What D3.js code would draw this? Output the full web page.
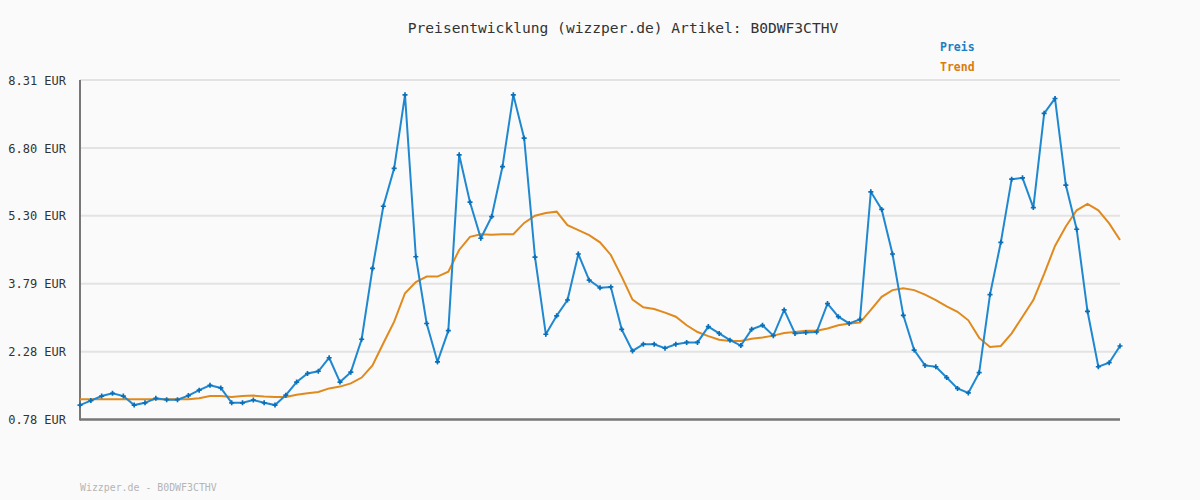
<!DOCTYPE html>
<html>
<head>
<meta charset="utf-8">
<script src="https://cdn.jsdelivr.net/npm/d3@7"></script>
<style>
  body { margin: 0; background: #fafafa; }
  svg { display: block; }
  text { font-family: "DejaVu Sans Mono", "Liberation Mono", monospace; }
</style>
</head>
<body>
<div id="chart"></div>
<script>
// Preis pro Messpunkt (EUR)
const PRICES = [1.10,1.20,1.30,1.36,1.30,1.10,1.15,1.25,1.22,1.22,1.31,1.43,1.54,1.48,1.15,1.15,1.21,1.15,1.10,1.32,
  1.61,1.80,1.85,2.15,1.61,1.83,2.56,4.13,5.51,6.35,7.98,4.39,2.91,2.06,2.75,6.65,5.60,4.80,5.28,6.39,
  7.98,7.02,4.38,2.67,3.08,3.43,4.45,3.87,3.70,3.72,2.78,2.30,2.45,2.45,2.36,2.45,2.49,2.49,2.84,2.69,
  2.54,2.42,2.78,2.87,2.64,3.21,2.69,2.71,2.72,3.35,3.06,2.91,3.00,5.83,5.44,4.45,3.09,2.32,1.98,1.95,
  1.71,1.47,1.37,1.82,3.55,4.71,6.11,6.14,5.48,7.57,7.90,5.98,5.00,3.18,1.95,2.04,2.41];
// Trendlinie
const TREND = [1.23,1.23,1.23,1.23,1.23,1.23,1.23,1.23,1.23,1.23,1.23,1.25,1.30,1.30,1.28,1.30,1.31,1.29,1.28,1.28,
  1.33,1.36,1.39,1.47,1.51,1.58,1.71,1.98,2.47,2.95,3.58,3.83,3.95,3.95,4.06,4.54,4.83,4.89,4.88,4.89,
  4.89,5.14,5.30,5.36,5.39,5.09,4.98,4.87,4.71,4.43,3.95,3.44,3.27,3.23,3.15,3.06,2.87,2.72,2.63,2.55,
  2.52,2.52,2.57,2.60,2.64,2.70,2.72,2.75,2.75,2.80,2.87,2.91,2.93,3.21,3.50,3.65,3.69,3.65,3.55,3.43,
  3.29,3.17,2.98,2.59,2.39,2.41,2.69,3.06,3.43,4.01,4.63,5.06,5.42,5.56,5.42,5.13,4.76];
const Y_TICKS = [0.78, 2.28, 3.79, 5.30, 6.80, 8.31];
const TITLE = "Preisentwicklung (wizzper.de) Artikel: B0DWF3CTHV";
const FOOTER = "Wizzper.de - B0DWF3CTHV";

(function() {
const W = 1200, H = 500;
const m = { left: 80, right: 1120, top: 80, bottom: 419.5 };

const svg = d3.select("#chart").append("svg").attr("width", W).attr("height", H);
svg.append("rect").attr("width", W).attr("height", H).attr("fill", "#fafafa");

const x = d3.scaleLinear().domain([0, PRICES.length - 1]).range([m.left, m.right]);
const y = d3.scaleLinear().domain([0.78, 8.31]).range([m.bottom, m.top]);

// gridlines
svg.append("g").selectAll("line").data(Y_TICKS.slice(1)).enter().append("line")
    .attr("x1", m.left).attr("x2", m.right)
    .attr("y1", d => y(d)).attr("y2", d => y(d))
    .attr("stroke", "#e3e3e3").attr("stroke-width", 2);

// y labels
svg.append("g").selectAll("text").data(Y_TICKS).enter().append("text")
    .attr("x", 66).attr("y", d => y(d) + 4.5)
    .attr("text-anchor", "end").attr("font-size", 12).attr("fill", "#333")
    .text(d => d.toFixed(2) + " EUR");

// axes
svg.append("line").attr("x1", m.left).attr("x2", m.left).attr("y1", m.top).attr("y2", m.bottom + 1)
    .attr("stroke", "#777").attr("stroke-width", 2);
svg.append("line").attr("x1", m.left).attr("x2", m.right).attr("y1", m.bottom).attr("y2", m.bottom)
    .attr("stroke", "#777").attr("stroke-width", 2.5);

const line = d3.line().x((d, i) => x(i)).y(d => y(d));

svg.append("path").datum(TREND).attr("d", line)
    .attr("fill", "none").attr("stroke", "#e08a1e").attr("stroke-width", 2);
svg.append("path").datum(PRICES).attr("d", line)
    .attr("fill", "none").attr("stroke", "#1f88d0").attr("stroke-width", 2);

// markers (small crosses)
const sym = d3.symbol().type(d3.symbolCross).size(14);
svg.append("g").selectAll("path").data(PRICES).enter().append("path")
    .attr("d", sym)
    .attr("transform", (d, i) => `translate(${x(i)},${y(d)})`)
    .attr("fill", "#0b6fb8");

// title + legend + footer
svg.append("text").attr("x", 623).attr("y", 33).attr("text-anchor", "middle")
    .attr("font-size", 14.6).attr("fill", "#333").text(TITLE);
svg.append("text").attr("x", 940).attr("y", 51).attr("font-size", 11.5).attr("font-weight", "bold")
    .attr("fill", "#1a7fc4").text("Preis");
svg.append("text").attr("x", 940).attr("y", 71).attr("font-size", 11.5).attr("font-weight", "bold")
    .attr("fill", "#d97c0e").text("Trend");
svg.append("text").attr("x", 80).attr("y", 491).attr("font-size", 9.9)
    .attr("fill", "#b5b5b5").text(FOOTER);
})();
</script>
</body>
</html>
